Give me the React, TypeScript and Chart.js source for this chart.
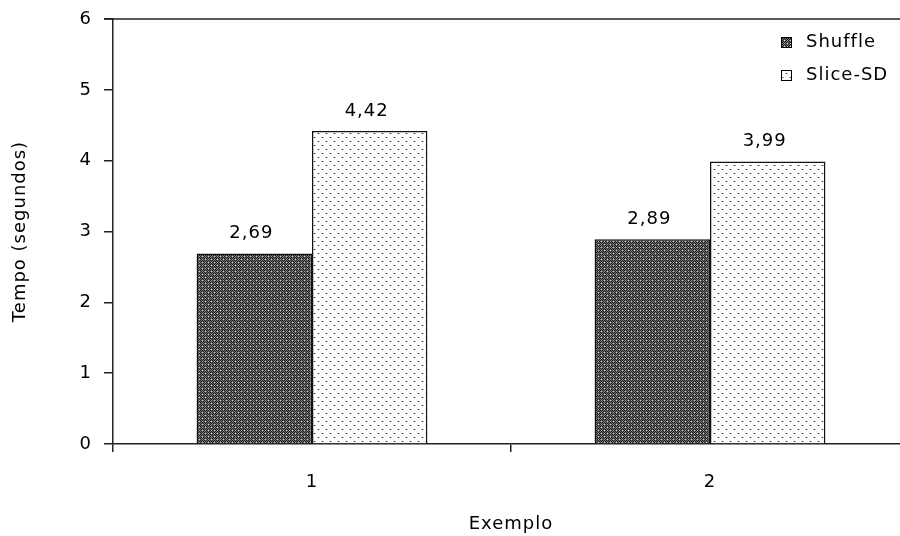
import React, { useEffect, useRef } from "react";
import { Chart, registerables } from "chart.js";

Chart.register(...registerables);

const categories = ["1", "2"];
const shuffleValues = [2.69, 2.89];
const sliceValues = [4.42, 3.99];
const seriesNames = ["Shuffle", "Slice-SD"];
const yTicks = [0, 1, 2, 3, 4, 5, 6];

const FONT = "'DejaVu Sans', Verdana, sans-serif";
const FONT_SIZE = 18;
const SPACING = "1px";
const LINE = "#222";

function makeTile(size: number, paint: (c: CanvasRenderingContext2D) => void) {
  const t = document.createElement("canvas");
  t.width = size;
  t.height = size;
  const c = t.getContext("2d")!;
  paint(c);
  return t;
}

// dark trellis fill
function shufflePattern(ctx: CanvasRenderingContext2D) {
  const tile = makeTile(6, (c) => {
    for (let y = 0; y < 6; y++) {
      for (let x = 0; x < 6; x++) {
        let col = (x + y) % 2 === 0 ? "#1c1c1c" : "#6e6e6e";
        if ((x === 1 && y === 1) || (x === 4 && y === 4)) col = "#d0d0d0";
        if ((x === 1 && y === 4) || (x === 4 && y === 1)) col = "#b0b0b0";
        c.fillStyle = col;
        c.fillRect(x, y, 1, 1);
      }
    }
  });
  return ctx.createPattern(tile, "repeat")!;
}

// sparse dotted fill
function slicePattern(ctx: CanvasRenderingContext2D) {
  const tile = makeTile(8, (c) => {
    c.fillStyle = "#ffffff";
    c.fillRect(0, 0, 8, 8);
    c.fillStyle = "#c0c0c0";
    c.fillRect(1, 1, 3, 1);
    c.fillRect(5, 5, 3, 1);
    c.fillStyle = "#333333";
    c.fillRect(2, 1, 1, 1);
    c.fillRect(6, 5, 1, 1);
  });
  return ctx.createPattern(tile, "repeat")!;
}

const fmt = (v: number) => v.toFixed(2).replace(".", ",");

const framePlugin = {
  id: "frame",
  beforeDraw(chart: any) {
    chart.ctx.letterSpacing = SPACING;
  },
  afterDraw(chart: any) {
    const { ctx, chartArea } = chart;
    ctx.save();
    ctx.strokeStyle = LINE;
    ctx.lineWidth = 1.5;
    ctx.beginPath();
    ctx.moveTo(chartArea.left - 9, chartArea.top);
    ctx.lineTo(chartArea.right, chartArea.top);
    ctx.stroke();

    // value labels above the bars
    ctx.letterSpacing = SPACING;
    ctx.fillStyle = "#000";
    ctx.font = `${FONT_SIZE}px ${FONT}`;
    ctx.textAlign = "center";
    ctx.textBaseline = "middle";
    chart.data.datasets.forEach((ds: any, i: number) => {
      const meta = chart.getDatasetMeta(i);
      meta.data.forEach((bar: any, j: number) => {
        ctx.fillText(fmt(ds.data[j]), bar.x - 3, bar.y - 20);
      });
    });

    // legend inside the plot, upper right
    ctx.textAlign = "left";
    ctx.textBaseline = "middle";
    chart.data.datasets.forEach((ds: any, i: number) => {
      const y = 42 + i * 33;
      const x = 781;
      ctx.fillStyle = ds.backgroundColor;
      ctx.fillRect(x, y - 5, 10, 10);
      ctx.strokeStyle = "#000";
      ctx.lineWidth = 1;
      ctx.strokeRect(x + 0.5, y - 4.5, 10, 10);
      ctx.fillStyle = "#000";
      ctx.fillText(ds.label, 806, y);
    });
    ctx.restore();
  },
};

export default function App() {
  const ref = useRef<HTMLCanvasElement>(null);

  useEffect(() => {
    const canvas = ref.current!;
    const ctx = canvas.getContext("2d")!;
    const chart = new Chart(canvas, {
      type: "bar",
      data: {
        labels: categories,
        datasets: [
          {
            label: seriesNames[0],
            data: shuffleValues,
            backgroundColor: shufflePattern(ctx) as any,
            borderColor: "#111",
            borderWidth: 1.5,
            categoryPercentage: 0.58,
            barPercentage: 1,
          },
          {
            label: seriesNames[1],
            data: sliceValues,
            backgroundColor: slicePattern(ctx) as any,
            borderColor: "#111",
            borderWidth: 1.5,
            categoryPercentage: 0.58,
            barPercentage: 1,
          },
        ],
      },
      options: {
        responsive: false,
        animation: false,
        events: [],
        layout: { padding: { top: 19, left: 0, right: 0, bottom: 0 } },
        plugins: {
          legend: { display: false },
          tooltip: { enabled: false },
        },
        scales: {
          x: {
            grid: {
              offset: true,
              drawOnChartArea: false,
              tickLength: 8,
              color: LINE,
              lineWidth: 1.5,
            },
            border: { color: LINE, width: 1.5 },
            ticks: {
              color: "#000",
              font: { family: FONT, size: FONT_SIZE },
              padding: 20,
            },
            title: {
              display: true,
              text: "Exemplo",
              color: "#000",
              font: { family: FONT, size: FONT_SIZE },
              padding: { top: 0, bottom: 1 },
            },
            afterFit: (s: any) => {
              s.height = 92;
              s.paddingLeft = 0;
              s.paddingRight = 0;
            },
          },
          y: {
            min: 0,
            max: 6,
            afterBuildTicks: (s: any) => {
              s.ticks = yTicks.map((v) => ({ value: v }));
            },
            grid: {
              drawOnChartArea: false,
              tickLength: 9,
              color: LINE,
              lineWidth: 1.5,
            },
            border: { color: LINE, width: 1.5 },
            ticks: {
              color: "#000",
              font: { family: FONT, size: FONT_SIZE },
              padding: 12,
            },
            title: {
              display: true,
              text: "Tempo (segundos)",
              color: "#000",
              font: { family: FONT, size: FONT_SIZE },
              padding: { top: 10, bottom: 0 },
            },
            afterFit: (s: any) => {
              s.width = 113;
              s.paddingTop = 0;
              s.paddingBottom = 0;
            },
          },
        },
      },
      plugins: [framePlugin],
    });
    return () => chart.destroy();
  }, []);

  return (
    <div
      style={{
        position: "fixed",
        left: 0,
        top: 0,
        width: 900,
        height: 536,
        overflow: "hidden",
        background: "#fff",
      }}
    >
      <canvas ref={ref} width={909} height={536} style={{ display: "block" }} />
    </div>
  );
}
